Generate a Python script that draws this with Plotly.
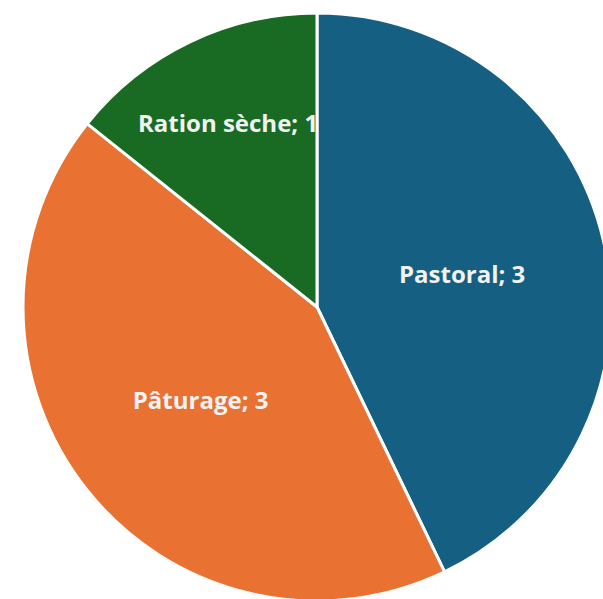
import plotly.graph_objects as go

labels = ["Pastoral", "Pâturage", "Ration sèche"]
values = [3, 3, 1]
colors = ["#156082", "#E97132", "#196B24"]

W, H = 620, 612
cx, cy, r = 317, 307, 294

fig = go.Figure(go.Pie(
    labels=labels, values=values, sort=False, direction="clockwise", rotation=0,
    marker=dict(colors=colors, line=dict(color="white", width=3)),
    texttemplate="%{label}; %{value}", textposition="inside",
    insidetextorientation="horizontal",
    textfont=dict(family="Open Sans", size=24, color="#F2F2F2", weight="bold"),
    domain=dict(x=[(cx - r) / W, (cx + r) / W], y=[1 - (cy + r) / H, 1 - (cy - r) / H]),
    showlegend=False, hoverinfo="label+value",
))
fig.update_layout(
    width=W, height=H, margin=dict(l=0, r=0, t=0, b=0),
    paper_bgcolor="white", plot_bgcolor="white",
    uniformtext=dict(minsize=24, mode="show"),
)
fig.write_html("out.html", post_script="document.body.style.margin='0';document.body.style.overflow='hidden';document.documentElement.style.overflow='hidden';")
